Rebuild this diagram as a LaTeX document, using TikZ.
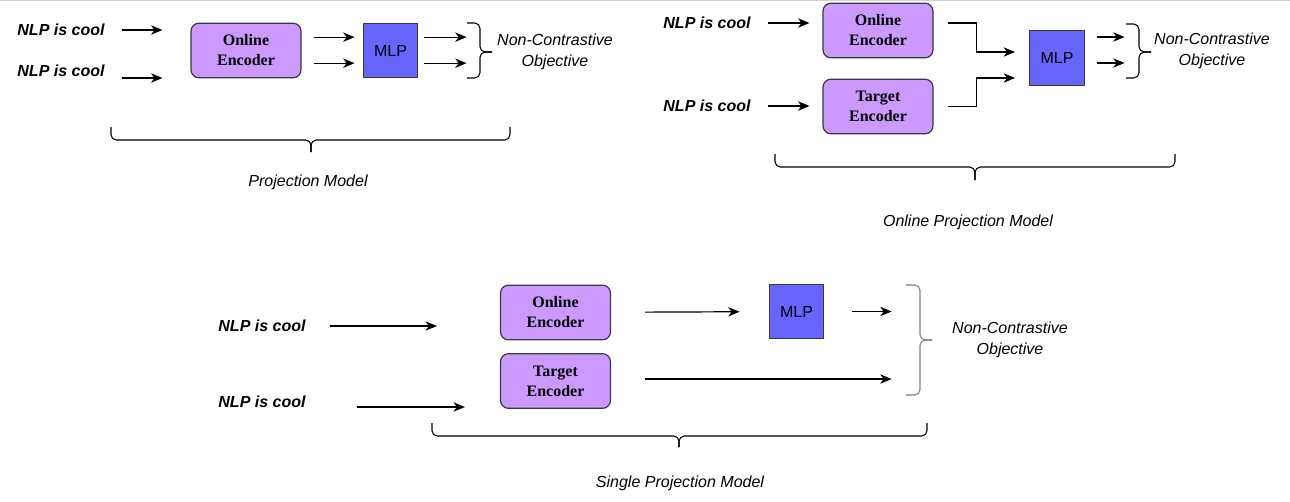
\documentclass[tikz,border=0pt]{standalone}
\usepackage{fontspec}
\setmainfont{Liberation Serif}
\setsansfont{Liberation Sans}
\usetikzlibrary{positioning,arrows.meta,calc}

\definecolor{encfill}{HTML}{CC99FF}
\definecolor{mlpfill}{HTML}{6666FF}
\definecolor{edgecol}{HTML}{36393D}

\begin{document}
\begin{tikzpicture}[
  x=0.75pt, y=-0.75pt,
  font=\sffamily\fontsize{12}{15.75}\selectfont,
  >={Stealth[length=8.5pt, width=7pt, inset=2.5pt]},
  line width=0.9pt,
  inp/.style={inner sep=0pt, font=\sffamily\bfseries\itshape\fontsize{12}{14}\selectfont},
  enc/.style={draw=edgecol, fill=encfill, rounded corners=6pt,
              minimum width=82.5pt, minimum height=41pt, align=center,
              font=\rmfamily\bfseries\fontsize{12}{15}\selectfont},
  mlp/.style={draw=edgecol, fill=mlpfill, minimum width=41pt,
              minimum height=41pt, inner sep=0pt},
  obj/.style={inner sep=0pt, align=center,
              font=\sffamily\itshape\fontsize{12}{15.75}\selectfont},
  caption/.style={font=\sffamily\itshape\fontsize{12}{14}\selectfont},
  arr/.style={->},
  curly/.style={rounded corners=4pt, line width=0.8pt},
]
  \useasboundingbox (0,0) rectangle (1290,501);
  \draw[gray!35] (0,0.5) -- (1290,0.5);

  % ── Projection Model (top left) ──
  \node[inp] (in1a) at (61,30) {NLP is cool};
  \node[inp] (in1b) at (61,71) {NLP is cool};
  \node[enc] (on1)  at (246,50.5) {Online\\Encoder};
  \node[mlp] (mlp1) at (390.5,50.5) {MLP};
  \node[obj] (obj1) at (555,51.5) {Non-Contrastive\\Objective};
  \node[caption] (cap1) at (308,182) {Projection Model};
  \draw[arr, shorten <=12.75pt, shorten >=21pt] (in1a) -- (in1a -| on1.west);
  \draw[arr, shorten <=12.75pt, shorten >=21pt]
    ([yshift=-5.25pt]in1b.east) -- ([yshift=-5.25pt]in1b.east -| on1.west);
  \draw[arr, shorten <=9pt, shorten >=6pt] ([yshift=10pt]on1.east) -- ([yshift=10pt]mlp1.west);
  \draw[arr, shorten <=9pt, shorten >=6pt] ([yshift=-9.5pt]on1.east) -- ([yshift=-9.5pt]mlp1.west);
  \draw[arr, shorten <=4.5pt, shorten >=22.5pt]
    ([yshift=10pt]mlp1.east) -- ([yshift=10pt]mlp1.east -| obj1.west);
  \draw[arr, shorten <=4.5pt, shorten >=22.5pt]
    ([yshift=-9.5pt]mlp1.east) -- ([yshift=-9.5pt]mlp1.east -| obj1.west);
  % braces
  \draw[curly] (467,23) -- (480,23) -- (480,52) -- (492,52);
  \draw[curly] (492,52) -- (480,52) -- (480,78) -- (467,78);
  \draw[curly] (111,127) -- (111,140) -- (311,140) -- (311,152);
  \draw[curly] (311,152) -- (311,140) -- (510,140) -- (510,127);

  % ── Online Projection Model (top right) ──
  \node[inp] (in2a) at (707,23) {NLP is cool};
  \node[inp] (in2b) at (707,106) {NLP is cool};
  \node[enc] (on2)  at (878,30.5) {Online\\Encoder};
  \node[enc] (tg2)  at (878,106.5) {Target\\Encoder};
  \node[mlp] (mlp2) at (1057,58) {MLP};
  \node[obj] (obj2) at (1212,51) {Non-Contrastive\\Objective};
  \node[caption] (cap2) at (968,222) {Online Projection Model};
  \draw[arr, shorten <=12.75pt, shorten >=9.75pt] (in2a) -- (in2a -| on2.west);
  \draw[arr, shorten <=12.75pt, shorten >=9.75pt] (in2b) -- (in2b -| tg2.west);
  \draw[arr, shorten <=10.5pt, shorten >=10.5pt]
    ([yshift=5.6pt]on2.east) -| ($(on2.east)!0.45!(mlp2.west)$) |- ([yshift=4.5pt]mlp2.west);
  \draw[arr, shorten <=10.5pt, shorten >=10.5pt]
    (tg2.east) -| ($(tg2.east)!0.45!(mlp2.west)$) |- ([yshift=-15pt]mlp2.west);
  \draw[arr, shorten <=9pt, shorten >=21.75pt]
    ([yshift=15.75pt]mlp2.east) -- ([yshift=15.75pt]mlp2.east -| obj2.west);
  \draw[arr, shorten <=9pt, shorten >=21.75pt]
    ([yshift=-3.75pt]mlp2.east) -- ([yshift=-3.75pt]mlp2.east -| obj2.west);
  % braces
  \draw[curly] (1126,24) -- (1139,24) -- (1139,52) -- (1151,52);
  \draw[curly] (1151,52) -- (1139,52) -- (1139,78) -- (1126,78);
  \draw[curly] (775,154) -- (775,167) -- (975,167) -- (975,180);
  \draw[curly] (975,180) -- (975,167) -- (1175,167) -- (1175,154);

  % ── Single Projection Model (bottom) ──
  \node[inp] (in3a) at (262,326) {NLP is cool};
  \node[inp] (in3b) at (262,402) {NLP is cool};
  \node[enc] (on3)  at (555.5,312.5) {Online\\Encoder};
  \node[enc] (tg3)  at (555.5,381) {Target\\Encoder};
  \node[mlp] (mlp3) at (796.5,311.5) {MLP};
  \node[obj] (obj3) at (1010,340) {Non-Contrastive\\Objective};
  \node[caption] (cap3) at (680,483) {Single Projection Model};
  \draw[arr, shorten <=17.6pt, shorten >=47.25pt] (in3a) -- (in3a -| on3.west);
  \draw[arr, shorten <=37.9pt, shorten >=26.25pt]
    ([yshift=-3.75pt]in3b.east) -- ([yshift=-3.75pt]in3b.east -| tg3.west);
  \draw[arr, shorten <=25.5pt, shorten >=21.75pt] (on3) -- (mlp3);
  \draw[arr, shorten <=21pt, shorten >=45pt] (mlp3) -- (mlp3 -| obj3.west);
  \draw[arr, shorten <=25.5pt, shorten >=45pt]
    ([yshift=1.5pt]tg3.east) -- ([yshift=1.5pt]tg3.east -| obj3.west);
  % braces
  \draw[curly, draw=gray] (906,285) -- (920,285) -- (920,340) -- (932,340);
  \draw[curly, draw=gray] (932,340) -- (920,340) -- (920,395) -- (906,395);
  \draw[curly] (432,423) -- (432,436) -- (679,436) -- (679,447);
  \draw[curly] (679,447) -- (679,436) -- (927,436) -- (927,423);
\end{tikzpicture}
\end{document}
